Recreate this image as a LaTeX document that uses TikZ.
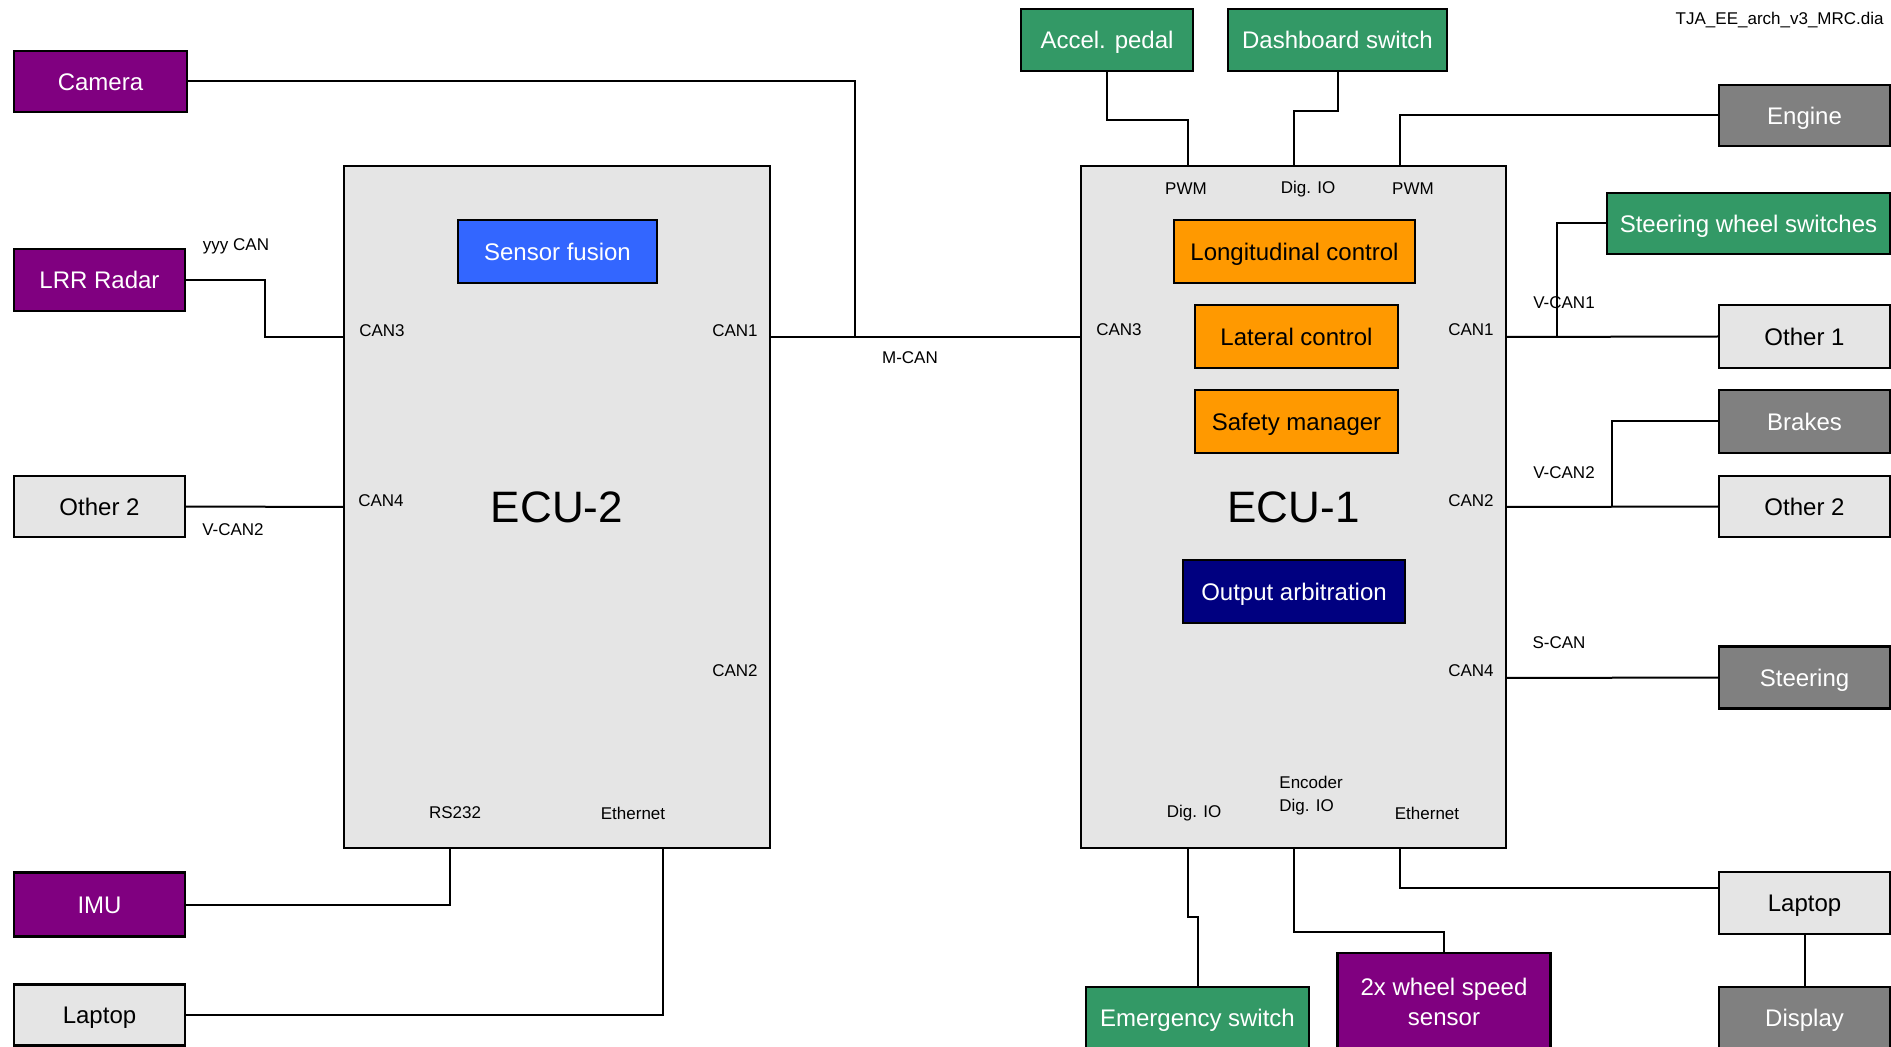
\documentclass[tikz,border=0pt]{standalone}
\usepackage{fontspec}
\setmainfont{Liberation Sans}
\usetikzlibrary{calc}
\definecolor{sensorpurple}{HTML}{800080}
\definecolor{hmigreen}{HTML}{339966}
\definecolor{actgray}{HTML}{808080}
\definecolor{boxgray}{HTML}{E5E5E5}
\definecolor{funcorange}{HTML}{FF9900}
\definecolor{fusionblue}{HTML}{3366FF}
\definecolor{arbnavy}{HTML}{000080}
\tikzset{box/.style={draw, line width=1.2pt, inner sep=0pt, outer sep=0pt, align=center, text height=8.6pt, text depth=0pt, font=\fontsize{12}{15}\selectfont}}
\tikzset{sz/.style 2 args={minimum width=#1*0.5pt, minimum height=#2*0.5pt}}
\tikzset{sensor/.style={box, fill=sensorpurple, text=white}}
\tikzset{hmi/.style={box, fill=hmigreen, text=white}}
\tikzset{actuator/.style={box, fill=actgray, text=white}}
\tikzset{other/.style={box, fill=boxgray}}
\tikzset{func/.style={box, fill=funcorange}}
\tikzset{ecu/.style={box, fill=boxgray, text height=15.8pt, font=\fontsize{22}{26}\selectfont}}
\tikzset{port/.style={inner sep=0pt, font=\fontsize{8.5}{11.5}\selectfont}}
\tikzset{wire/.style={line width=1pt}}

\begin{document}
\begin{tikzpicture}[x=0.5pt, y=-0.5pt]
        \useasboundingbox (0,0) rectangle (1891,1047);
        % ECUs
        \node[ecu, sz={426}{682}] (ecu2) at (557,507) {ECU-2};
        \node[ecu, sz={425}{682}] (ecu1) at (1293.5,507) {ECU-1};
        % Functions inside the ECUs
        \node[box, fill=fusionblue, text=white, sz={199}{63}] (fusion) at (557.5,251.5) {Sensor fusion};
        \node[func, sz={241}{63}] (longi) at (1294.5,251.5) {Longitudinal control};
        \node[func, sz={203}{63}] (lat) at (1296.5,336.5) {Lateral control};
        \node[func, sz={203}{63}] (safety) at (1296.5,421.5) {Safety manager};
        \node[box, fill=arbnavy, text=white, sz={222}{63}] (arbit) at (1294,591.5) {Output arbitration};
        % Left side
        \node[sensor, sz={173}{61}] (cam) at (100.5,81.5) {Camera};
        \node[sensor, sz={171}{62}] (lrr) at (99.5,280) {LRR Radar};
        \node[other, sz={171}{61}] (oth2l) at (99.5,506.5) {Other 2};
        \node[sensor, sz={171}{64}] (imu) at (99.5,904.5) {IMU};
        \node[other, sz={171}{61}] (lapl) at (99.5,1015) {Laptop};
        % Top
        \node[hmi, sz={172}{62}] (accel) at (1107,40) {Accel. pedal};
        \node[hmi, sz={219}{62}] (dash) at (1337.5,40) {Dashboard switch};
        % Right side
        \node[actuator, sz={171}{61}] (engine) at (1804.5,115.5) {Engine};
        \node[hmi, sz={283}{61}] (sws) at (1748.5,223.5) {Steering wheel switches};
        \node[other, sz={171}{63}] (oth1) at (1804.5,336.5) {Other 1};
        \node[actuator, sz={171}{63}] (brakes) at (1804.5,421.5) {Brakes};
        \node[other, sz={171}{61}] (oth2r) at (1804.5,506.5) {Other 2};
        \node[actuator, sz={171}{62}] (steer) at (1804.5,677.5) {Steering};
        \node[other, sz={171}{62}] (lapr) at (1804.5,903) {Laptop};
        \node[actuator, sz={171}{62}] (disp) at (1804.5,1018) {Display};
        % Bottom
        \node[hmi, sz={223}{62}] (emerg) at (1197.5,1018) {Emergency switch};
        \node[sensor, sz={213}{98}, text height=23.6pt] (wheel) at (1444,1002) {2x wheel speed\\sensor};

        % Ports
        \coordinate (e2can3) at ($(ecu2.north west)+(0,171)$);
        \coordinate (e2can1) at ($(ecu2.north east)+(0,171)$);
        \coordinate (e2rs) at ($(ecu2.south west)+(106,0)$);
        \coordinate (e2eth) at ($(ecu2.south west)+(319,0)$);
        \coordinate (e1can3) at ($(ecu1.north west)+(0,171)$);
        \coordinate (e1can1) at ($(ecu1.north east)+(0,171)$);
        \coordinate (e1can4) at ($(ecu1.north east)+(0,512)$);
        \coordinate (e1pwma) at ($(ecu1.north west)+(107,0)$);
        \coordinate (e1pwmb) at ($(ecu1.north west)+(319,0)$);
        \coordinate (e1din) at ($(ecu1.south west)+(107,0)$);
        \coordinate (e1eth) at ($(ecu1.south west)+(319,0)$);
        \coordinate (mcan) at ($(e2can1)+(85,0)$);

        % Wires
        \draw[wire] (e2can1) -- (e1can3);
        \draw[wire] (cam.east) -| (mcan);
        \draw[wire] (lrr.east) -- ++(80,0) |- (e2can3);
        \draw[wire] (oth2l.east) -- (ecu2.west);
        \draw[wire] (imu.east) -| (e2rs);
        \draw[wire] (lapl.east) -| (e2eth);
        \draw[wire] (accel.south) -- ++(0,49) -| (e1pwma);
        \draw[wire] (dash.south) -- ++(0,40) -| (ecu1.north);
        \draw[wire] (engine.west) -| (e1pwmb);
        \draw[wire] (e1can1) -- (oth1.west);
        \draw[wire] (sws.west) -| ($(e1can1)+(51,0)$);
        \draw[wire] (ecu1.east) -- (oth2r.west);
        \draw[wire] (brakes.west) -| ($(ecu1.east)+(106,0)$);
        \draw[wire] (e1can4) -- (steer.west);
        \draw[wire] (e1din) -- ++(0,69) -| (emerg.north);
        \draw[wire] (ecu1.south) -- ++(0,84) -| (wheel.north);
        \draw[wire] (e1eth) |- ($(lapr.west)+(0,-15)$);
        \draw[wire] (lapr.south) -- (disp.north);

        % Port and bus labels
        \foreach \pos/\txt [count=\n] in {
          {(382,331)}/CAN3, {(735,331)}/CAN1, {(381,501)}/CAN4, {(735,671)}/CAN2,
          {(455,813)}/RS232, {(633,813)}/Ethernet,
          {(1186,189)}/PWM, {(1308,189)}/Dig. IO, {(1413,189)}/PWM,
          {(1119,330)}/CAN3, {(1471,330)}/CAN1, {(1471,501)}/CAN2, {(1471,671)}/CAN4,
          {(1194,813)}/Dig. IO, {(1427,813)}/Ethernet,
          {(236,246)}/yyy CAN, {(910,358)}/M-CAN, {(233,530)}/V-CAN2,
          {(1564,303)}/V-CAN1, {(1564,473)}/V-CAN2, {(1559,643)}/S-CAN
        } {
          \node[port] (lbl\n) at \pos {\txt};
        }
        \node[port, anchor=west, align=left] (enclbl) at (1279,796) {Encoder\\Dig. IO};
        \node[port, anchor=east] (fname) at (1884,20) {TJA\_EE\_arch\_v3\_MRC.dia};
\end{tikzpicture}
\end{document}
